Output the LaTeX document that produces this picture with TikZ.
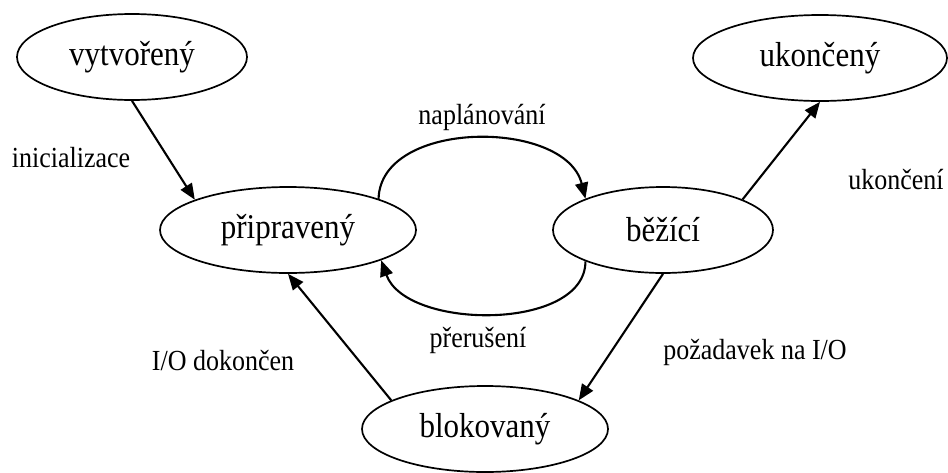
\documentclass[tikz,border=0pt]{standalone}
\usepackage{fontspec}
\setmainfont{Liberation Serif}
\usetikzlibrary{shapes.geometric,arrows.meta}

% text in this figure is set slightly tall
\newcommand{\talltext}[1]{\scalebox{1}[1.12]{#1}}

\tikzset{
  state/.style={draw, ellipse, line width=1.7pt, inner sep=0pt,
    minimum height=86pt, font=\fontsize{31}{36}\selectfont},
  trans/.style={line width=2.1pt, -{Triangle[length=16pt,width=13pt]}},
  edgelabel/.style={inner sep=0pt, font=\fontsize{26}{30}\selectfont}
}

\begin{document}
\begin{tikzpicture}[x=1pt,y=-1pt]
\useasboundingbox (0,0) rectangle (948,472);

% process states
\node[state, minimum width=230pt] (vy) at (132,57)  {\talltext{vytvořený}};
\node[state, minimum width=254pt] (uk) at (820,58)  {\talltext{ukončený}};
\node[state, minimum width=256pt] (pr) at (288,230) {\talltext{připravený}};
\node[state, minimum width=220pt] (bz) at (663,230) {\talltext{běžící}};
\node[state, minimum width=246pt] (bl) at (485,429) {\talltext{blokovaný}};

% transitions
\draw[trans] (vy.south) -- (pr.162);
\draw[trans] (pr.19) .. controls +(2,-80) and +(-20,-80) .. (bz.158);
\draw[trans] (bz.202) .. controls +(0,70) and +(25,70) .. (pr.-18);
\draw[trans] (bz.21) -- (uk.south);
\draw[trans] (bz.south) -- (bl.17);
\draw[trans] (bl.163) -- (pr.south);

% transition labels
\node[edgelabel] (linit) at (71,158)  {\talltext{inicializace}};
\node[edgelabel] (lplan) at (482,117) {\talltext{naplánování}};
\node[edgelabel] (lend)  at (896,180) {\talltext{ukončení}};
\node[edgelabel] (lint)  at (478,340) {\talltext{přerušení}};
\node[edgelabel] (lio)   at (223,361) {\talltext{I/O dokončen}};
\node[edgelabel] (lreq)  at (755,352) {\talltext{požadavek na I/O}};
\end{tikzpicture}
\end{document}
